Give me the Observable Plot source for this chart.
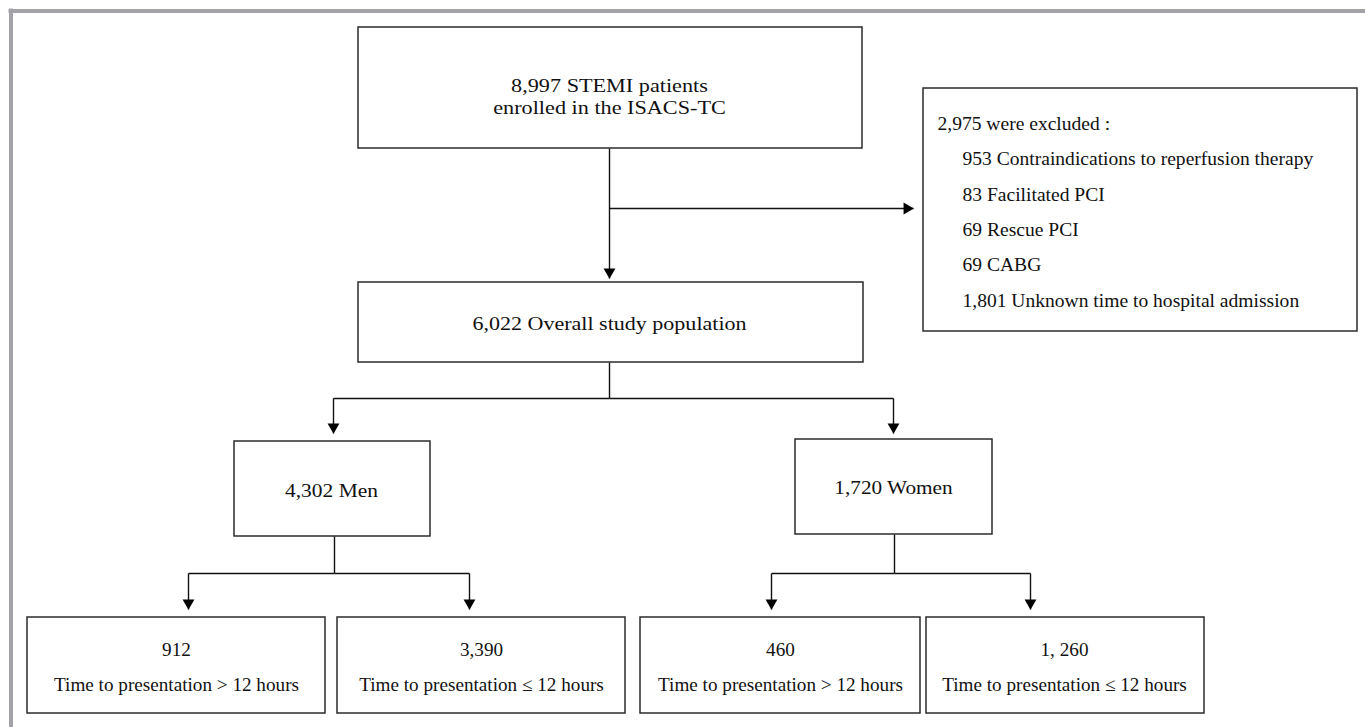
<!DOCTYPE html>
<html>
<head>
<meta charset="utf-8">
<script src="https://cdn.jsdelivr.net/npm/d3@7"></script>
<script src="https://cdn.jsdelivr.net/npm/@observablehq/plot@0.6"></script>
<style>
  html, body { margin: 0; padding: 0; background: #ffffff; }
  #chart svg { display: block; }
</style>
</head>
<body>
<div id="chart"></div>
<script>
const nodeIds = ["enrolled", "excluded", "overall", "men", "women", "menGt12", "menLe12", "womenGt12", "womenLe12"];
const nodeCounts = ["8,997", "2,975", "6,022", "4,302", "1,720", "912", "3,390", "460", "1, 260"];
const nodeLabels = [
  "STEMI patients|enrolled in the ISACS-TC",
  "were excluded :",
  "Overall study population",
  "Men",
  "Women",
  "Time to presentation > 12 hours",
  "Time to presentation \u2264 12 hours",
  "Time to presentation > 12 hours",
  "Time to presentation \u2264 12 hours"
];
const exclusionCounts = ["953", "83", "69", "69", "1,801"];
const exclusionReasons = [
  "Contraindications to reperfusion therapy",
  "Facilitated PCI",
  "Rescue PCI",
  "CABG",
  "Unknown time to hospital admission"
];
// parent -> child edges of the flow
const edgeFrom = ["enrolled", "enrolled", "overall", "overall", "men", "men", "women", "women"];
const edgeTo   = ["overall", "excluded", "men", "women", "menGt12", "menLe12", "womenGt12", "womenLe12"];

// ---- Layout (pixel geometry of the drawing, kept apart from the data) ----
const W = 1365, H = 727;
const boxLayout = {
  enrolled:  {x1: 358, y1: 27,  x2: 862,  y2: 148},
  excluded:  {x1: 923, y1: 88,  x2: 1357, y2: 331},
  overall:   {x1: 358, y1: 282, x2: 863,  y2: 362},
  men:       {x1: 234, y1: 441, x2: 430,  y2: 536},
  women:     {x1: 795, y1: 439, x2: 992,  y2: 534},
  menGt12:   {x1: 27,  y1: 617, x2: 325,  y2: 713},
  menLe12:   {x1: 337, y1: 617, x2: 625,  y2: 713},
  womenGt12: {x1: 640, y1: 617, x2: 920,  y2: 713},
  womenLe12: {x1: 926, y1: 617, x2: 1204, y2: 713}
};
// connector paths (polyline of points) per edge, ending at the arrow tip
const edgeLayout = {
  "enrolled>overall":  [[609, 148], [609, 278]],
  "enrolled>excluded": [[609, 208], [913, 208]],
  "overall>men":       [[609, 362], [609, 398], [333, 398], [333, 433]],
  "overall>women":     [[609, 398], [893, 398], [893, 433]],
  "men>menGt12":       [[334, 536], [334, 573], [188, 573], [188, 609]],
  "men>menLe12":       [[334, 573], [469, 573], [469, 609]],
  "women>womenGt12":   [[894, 534], [894, 573], [771, 573], [771, 609]],
  "women>womenLe12":   [[894, 573], [1030, 573], [1030, 609]]
};
// text placement; the original glyphs are horizontally stretched (sx)
const textLayout = {
  enrolled:  {x: 609, y: [85, 107], sx: 1.17},
  overall:   {x: 609, y: [323], sx: 1.16},
  men:       {x: 331, y: [490], sx: 1.13},
  women:     {x: 893, y: [487], sx: 1.12},
  menGt12:   {x: 176, y: [649, 684], sx: 1.01},
  menLe12:   {x: 481, y: [649, 684], sx: 1.01},
  womenGt12: {x: 780, y: [649, 684], sx: 1.01},
  womenLe12: {x: 1064, y: [649, 684], sx: 1.01}
};
const exclHeader = {x: 937, y: 123, sx: 1.03};
const exclItems = {x: 962, y: [158, 194, 229, 264, 300], sx: 1.03};
const fontPx = 19;

// ---- Build mark data ----
const boxes = nodeIds.map(id => ({id, ...boxLayout[id]}));

const segs = [];
const tips = [];
edgeFrom.forEach((f, i) => {
  const key = f + ">" + edgeTo[i];
  const pts = edgeLayout[key];
  for (let k = 0; k < pts.length - 1; k++) {
    segs.push({x1: pts[k][0], y1: pts[k][1], x2: pts[k + 1][0], y2: pts[k + 1][1]});
  }
  const a = pts[pts.length - 2], b = pts[pts.length - 1];
  const dx = Math.sign(b[0] - a[0]), dy = Math.sign(b[1] - a[1]);
  tips.push({x: b[0] - dx * 6.5, y: b[1] - dy * 6.5, rot: dx > 0 ? 90 : 180});
});

const texts = [];
nodeIds.forEach((id, i) => {
  const L = textLayout[id];
  if (!L) return;
  const parts = nodeLabels[i].split("|");
  const base = {x: L.x, sx: L.sx, a: "middle"};
  if (id === "enrolled") {
    texts.push({...base, y: L.y[0], t: nodeCounts[i] + " " + parts[0]});
    texts.push({...base, y: L.y[1], t: parts[1]});
  } else if (L.y.length === 2) {
    texts.push({...base, y: L.y[0], t: nodeCounts[i]});
    texts.push({...base, y: L.y[1], t: parts[0]});
  } else {
    texts.push({...base, y: L.y[0], t: nodeCounts[i] + " " + parts[0]});
  }
});
const exIdx = nodeIds.indexOf("excluded");
texts.push({x: exclHeader.x, y: exclHeader.y, sx: exclHeader.sx, a: "start", t: nodeCounts[exIdx] + " " + nodeLabels[exIdx]});
exclusionReasons.forEach((r, i) => {
  texts.push({x: exclItems.x, y: exclItems.y[i], sx: exclItems.sx, a: "start", t: exclusionCounts[i] + " " + r});
});

// outer (cropped) frame: top and left edges only
const frame = [
  {x1: 8, y1: 10.5, x2: W, y2: 10.5},
  {x1: 10.5, y1: 8, x2: 10.5, y2: H}
];

const font = "Liberation Serif";

const chart = Plot.plot({
  width: W,
  height: H,
  margin: 0,
  x: {domain: [0, W], range: [0, W], axis: null},
  y: {domain: [0, H], range: [0, H], axis: null},
  style: {background: "#ffffff", fontFamily: font},
  marks: [
    Plot.link(frame, {x1: "x1", y1: "y1", x2: "x2", y2: "y2", stroke: "#a3a3a7", strokeWidth: 4}),
    Plot.rect(boxes, {x1: "x1", y1: "y1", x2: "x2", y2: "y2", fill: "#ffffff", stroke: "#2b2b2b", strokeWidth: 1.5}),
    Plot.link(segs, {x1: "x1", y1: "y1", x2: "x2", y2: "y2", stroke: "#111111", strokeWidth: 1.4}),
    Plot.dot(tips, {x: "x", y: "y", symbol: "triangle", r: 4.4, fill: "#000000", stroke: "none", rotate: "rot"}),
    Plot.text(texts.filter(d => d.a === "middle"), {x: "x", y: "y", text: "t", textAnchor: "middle", fontSize: fontPx, fill: "#111111", fontFamily: font}),
    Plot.text(texts.filter(d => d.a === "start"), {x: "x", y: "y", text: "t", textAnchor: "start", fontSize: fontPx, fill: "#111111", fontFamily: font})
  ]
});
// apply the horizontal stretch of the original lettering around each anchor
const sxByText = new Map(texts.map(d => [d.t, d.sx]));
d3.select(chart).selectAll("text").each(function () {
  const sx = sxByText.get(this.textContent);
  if (!sx || sx === 1) return;
  const t = this.getAttribute("transform");
  if (t && t.includes("translate")) {
    this.setAttribute("transform", t + ` scale(${sx},1)`);
  } else {
    const x = parseFloat(this.getAttribute("x")) || 0;
    this.setAttribute("transform", `translate(${x},0) scale(${sx},1) translate(${-x},0)`);
  }
});
document.getElementById("chart").appendChild(chart);
</script>
</body>
</html>
